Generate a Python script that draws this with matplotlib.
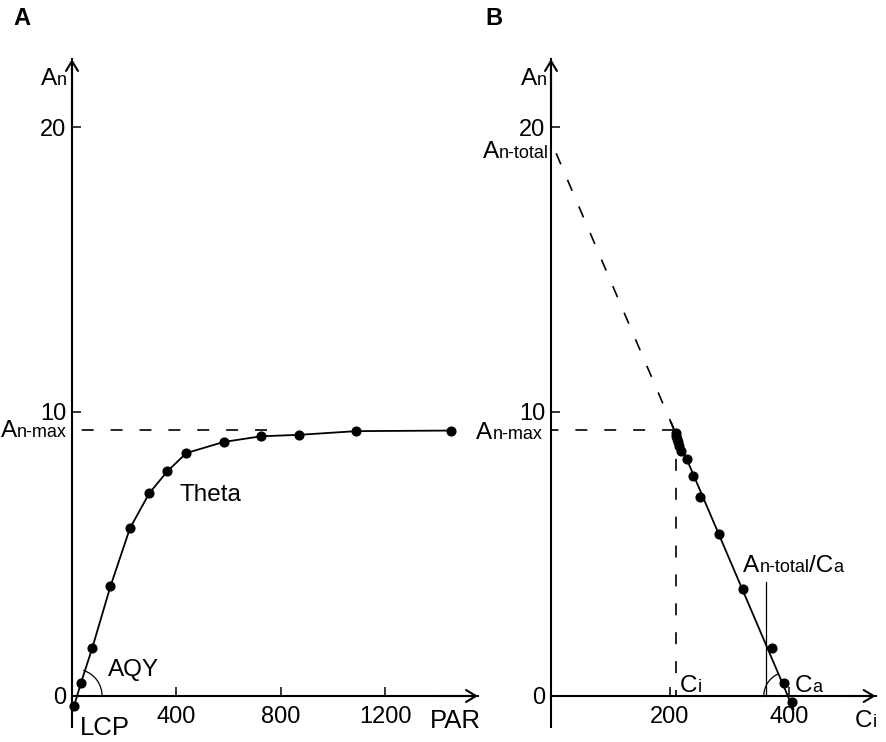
import numpy as np
import matplotlib
matplotlib.use('Agg')
import matplotlib.pyplot as plt
from matplotlib.offsetbox import TextArea, HPacker, AnnotationBbox
from matplotlib.patches import Arc
from matplotlib.transforms import Affine2D, ScaledTranslation

plt.rcParams['font.family'] = ['Liberation Sans', 'DejaVu Sans']
plt.rcParams['lines.scale_dashes'] = False

# --- panel A: light response curve ---
par = [8, 34, 78, 147, 222, 296, 365, 438, 581, 725, 870, 1088, 1450]
an_light = [-0.35, 0.45, 1.7, 3.85, 5.9, 7.13, 7.9, 8.54, 8.93, 9.13, 9.18, 9.31, 9.33]
an_max = 9.35
par_sat = 745
lcp = 12
par_ticks = [400, 800, 1200]

# --- panel B: An vs Ci ---
ci = [404.5, 391.6, 370.9, 323.2, 281.8, 249.9, 239.2, 228.6,
      218.0, 215.5, 213.5, 212.0, 210.5, 209.5]
an_ci = [-0.2, 0.45, 1.68, 3.75, 5.68, 6.98, 7.73, 8.32,
         8.62, 8.78, 8.92, 9.04, 9.14, 9.24]
fit_ci = [201.5, 407.5]
fit_an = [9.63, -0.46]
ext_ci = [207, 0]
ext_an = [9.35, 19.5]
ci_opt = 209.6
ca = 398
ratio_ci = 361
ratio_top = 4.0
ci_ticks = [200, 400]
an_ticks = [0, 10, 20]

W, H, DPI = 886, 742, 100
FS = 17.5
FS_SUB = 13
DASH = (8.6, 12.2)
MS = 6.3

fig = plt.figure(figsize=(W / DPI, H / DPI), dpi=DPI)


def make_axes(x0_px, sx, xlim, xtip, xticks):
    ylim = (-1.2, 22.6)
    y0_px, sy = 696, 28.45
    left = x0_px + xlim[0] * sx
    right = x0_px + xlim[1] * sx
    top = y0_px - ylim[1] * sy
    bottom = y0_px - ylim[0] * sy
    ax = fig.add_axes([left / W, 1 - bottom / H, (right - left) / W, (bottom - top) / H])
    ax.set_xlim(xlim)
    ax.set_ylim(ylim)
    ax.patch.set_visible(False)
    for s in ['top', 'right']:
        ax.spines[s].set_visible(False)
    for s in ['left', 'bottom']:
        ax.spines[s].set_position(('data', 0))
        ax.spines[s].set_linewidth(1.5)
    ax.spines['left'].set_bounds(-1.1, 22.39)
    ax.spines['bottom'].set_bounds(0, xtip)
    ax.set_xticks(xticks)
    ax.set_yticks(an_ticks)
    ax.tick_params(direction='in', length=6.5, width=1.1, labelsize=17)
    ax.tick_params(axis='x', pad=7.5)
    ax.tick_params(axis='y', pad=4)
    arrow = dict(arrowstyle='->,head_length=0.55,head_width=0.33', lw=1.5,
                 mutation_scale=13, shrinkA=0, shrinkB=0, color='k')
    ax.annotate('', xy=(0, 22.39), xytext=(0, 20.0), arrowprops=arrow, annotation_clip=False)
    ax.annotate('', xy=(xtip, 0), xytext=(xtip * 0.9, 0), arrowprops=arrow, annotation_clip=False)
    return ax


def label(ax, x, y, parts, ha=0.0):
    # alternate main / subscript pieces sitting on one baseline
    kids = []
    for i, s in enumerate(parts):
        size = FS if i % 2 == 0 else FS_SUB
        kids.append(TextArea(s, textprops=dict(fontsize=size, color='k')))
    box = HPacker(children=kids, align='baseline', pad=0, sep=0)
    ab = AnnotationBbox(box, (x, y), xycoords='data', xybox=(0, -0.21 * FS),
                        boxcoords='offset points', box_alignment=(ha, 0),
                        frameon=False, pad=0, annotation_clip=False)
    ax.add_artist(ab)


def angle_arc(ax, x, y, r_pt, t1, t2):
    tr = Affine2D().scale(DPI / 72) + ScaledTranslation(x, y, ax.transData)
    ax.add_patch(Arc((0, 0), 2 * r_pt, 2 * r_pt, theta1=t1, theta2=t2,
                     transform=tr, lw=0.9, color='k', clip_on=False))


# ---------- A ----------
axA = make_axes(72, 104.5 / 400, (-40, 1560), 1554, par_ticks)
axA.plot([par_sat, 0], [an_max, an_max], color='k', lw=1.2, dashes=DASH)
axA.plot(par, an_light, color='k', lw=1.3, marker='o', ms=MS)
p = axA.transData.transform([(par[0], an_light[0]), (par[2], an_light[2])])
ang = np.degrees(np.arctan2(p[1, 1] - p[0, 1], p[1, 0] - p[0, 0]))
angle_arc(axA, lcp, 0, 19.4, 0, ang)

label(axA, -19, 21.48, ['A', 'n'], ha=1)
label(axA, -20, 9.12, ['A', 'n-max'], ha=1)
axA.text(138, 0.70, 'AQY', fontsize=FS, va='baseline', ha='left')
axA.text(413, 6.85, 'Theta', fontsize=FS, va='baseline', ha='left')
axA.text(31, -1.37, 'LCP', fontsize=18.5, va='baseline', ha='left', clip_on=False)
axA.text(1370, -1.12, 'PAR', fontsize=18.5, va='baseline', ha='left', clip_on=False)

# ---------- B ----------
axB = make_axes(551, 0.595, (-20, 560), 545.7, ci_ticks)
axB.plot([ext_ci[0], 0], [an_max, an_max], color='k', lw=1.2, dashes=DASH)
axB.plot([ci_opt, ci_opt], [an_max, 0], color='k', lw=1.2, dashes=DASH)
axB.plot(ext_ci, ext_an, color='k', lw=1.2, dashes=DASH)
axB.plot(fit_ci, fit_an, color='k', lw=1.3)
axB.plot(ci, an_ci, 'o', color='k', ms=MS)
axB.plot([ratio_ci, ratio_ci], [0, ratio_top], color='k', lw=0.9)
q = axB.transData.transform([(fit_ci[0], fit_an[0]), (fit_ci[1], fit_an[1])])
angB = np.degrees(np.arctan2(q[0, 1] - q[1, 1], q[0, 0] - q[1, 0]))
angle_arc(axB, ca, 0, 17.3, angB, 180)

label(axB, -7, 21.48, ['A', 'n'], ha=1)
label(axB, -3, 18.91, ['A', 'n-total'], ha=1)
label(axB, -14.6, 9.05, ['A', 'n-max'], ha=1)
label(axB, 216.8, 0.14, ['C', 'i'])
label(axB, 410, 0.14, ['C', 'a'])
label(axB, 323, 4.37, ['A', 'n-total', '/C', 'a'])
label(axB, 511, -1.09, ['C', 'i'])

fig.text(13.5 / W, 1 - 25 / H, 'A', fontsize=17, weight='bold', va='baseline')
fig.text(485 / W, 1 - 25 / H, 'B', fontsize=17, weight='bold', va='baseline')

fig.savefig('out.png', dpi=DPI)
